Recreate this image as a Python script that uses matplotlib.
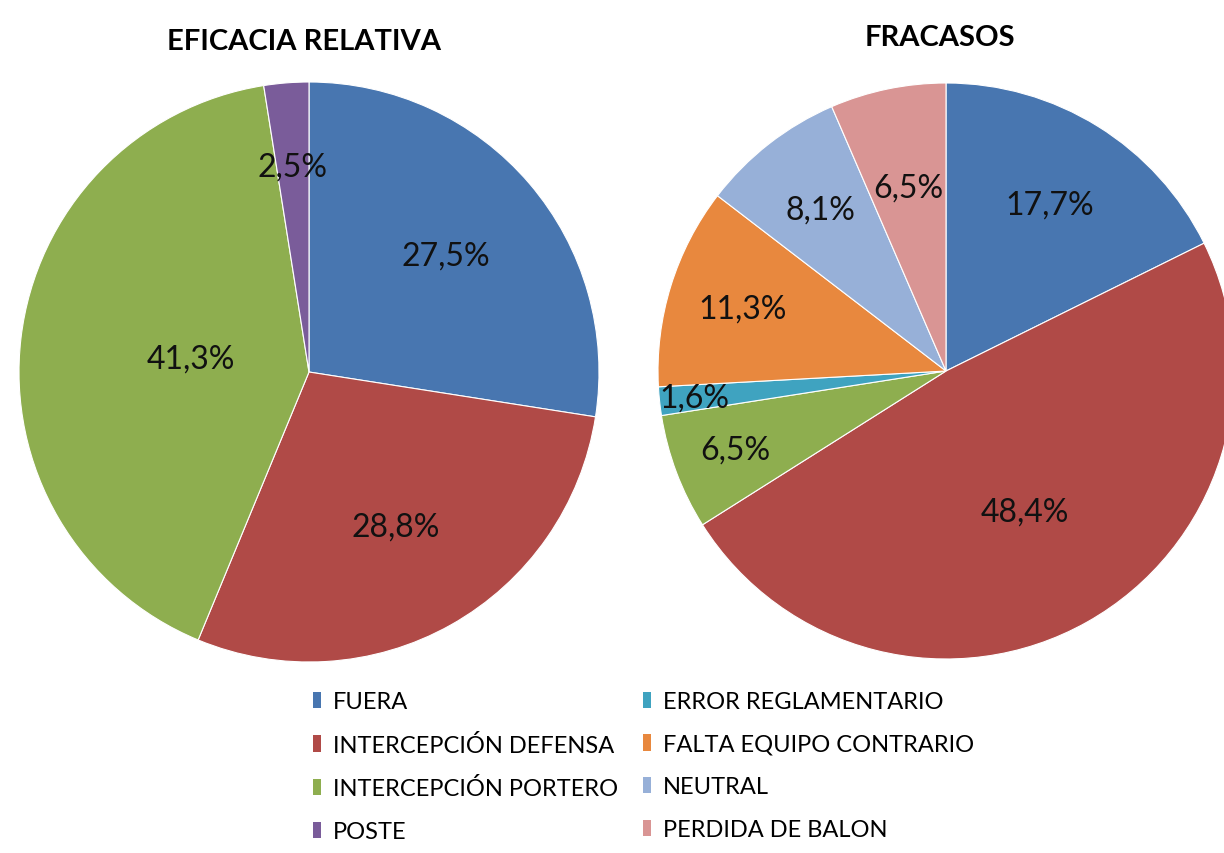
import numpy as np
import matplotlib.pyplot as plt
from matplotlib.patches import Patch

plt.rcParams['font.family'] = ['Lato', 'DejaVu Sans']

# data
left_labels = ["FUERA", "INTERCEPCIÓN DEFENSA", "INTERCEPCIÓN PORTERO", "POSTE"]
left_values = [27.5, 28.8, 41.3, 2.5]

right_labels = ["FUERA", "INTERCEPCIÓN DEFENSA", "INTERCEPCIÓN PORTERO",
                "ERROR REGLAMENTARIO", "FALTA EQUIPO CONTRARIO", "NEUTRAL",
                "PERDIDA DE BALON"]
right_values = [17.7, 48.4, 6.5, 1.6, 11.3, 8.1, 6.5]

colors = {
    "FUERA": "#4876B0",
    "INTERCEPCIÓN DEFENSA": "#B04A47",
    "INTERCEPCIÓN PORTERO": "#8EAE4F",
    "POSTE": "#7A5C9A",
    "ERROR REGLAMENTARIO": "#3FA3C0",
    "FALTA EQUIPO CONTRARIO": "#E8883E",
    "NEUTRAL": "#97B0D8",
    "PERDIDA DE BALON": "#D99594",
}

# label distance from centre (fraction of radius), per slice
left_dist = [0.62, 0.61, 0.41, 0.71]
right_dist = [0.68, 0.56, 0.78, 0.88, 0.74, 0.71, 0.65]

W, H = 1224, 854
fig = plt.figure(figsize=(W / 100, H / 100), dpi=100)


def pie_axes(cx, cy, r):
    ax = fig.add_axes([(cx - r) / W, (H - cy - r) / H, 2 * r / W, 2 * r / H])
    return ax


def draw_pie(ax, labels, values, dist):
    wedges, _ = ax.pie(values, colors=[colors[l] for l in labels], startangle=90,
                       counterclock=False, radius=1, normalize=True,
                       wedgeprops=dict(edgecolor='white', linewidth=0.8))
    for w, v, d in zip(wedges, values, dist):
        ang = np.deg2rad((w.theta1 + w.theta2) / 2)
        ax.text(d * np.cos(ang), d * np.sin(ang), f"{v:.1f}%".replace('.', ','),
                ha='center', va='center', fontsize=23, color='#111111')
    ax.set_xlim(-1, 1)
    ax.set_ylim(-1, 1)
    ax.set_aspect('equal')
    ax.axis('off')


ax1 = pie_axes(309, 373, 290)
draw_pie(ax1, left_labels, left_values, left_dist)
ax2 = pie_axes(946, 372, 288)
draw_pie(ax2, right_labels, right_values, right_dist)

fig.text(304 / W, 1 - 42 / H, "EFICACIA RELATIVA", ha='center', va='center',
         fontsize=21, fontweight='bold')
fig.text(940 / W, 1 - 38 / H, "FRACASOS", ha='center', va='center',
         fontsize=21, fontweight='bold')

# legend, two columns
col1 = left_labels
col2 = [l for l in right_labels if l not in left_labels]
for names, x in [(col1, 313), (col2, 643)]:
    handles = [Patch(facecolor=colors[n], edgecolor='none') for n in names]
    fig.legend(handles, names, loc='upper left', bbox_to_anchor=(x / W, 1 - 692 / H),
               frameon=False, fontsize=17, handlelength=0.35, handleheight=0.68,
               handletextpad=0.5, labelspacing=0.92, borderpad=0, borderaxespad=0)

fig.savefig("out.png", dpi=100, facecolor='white')
